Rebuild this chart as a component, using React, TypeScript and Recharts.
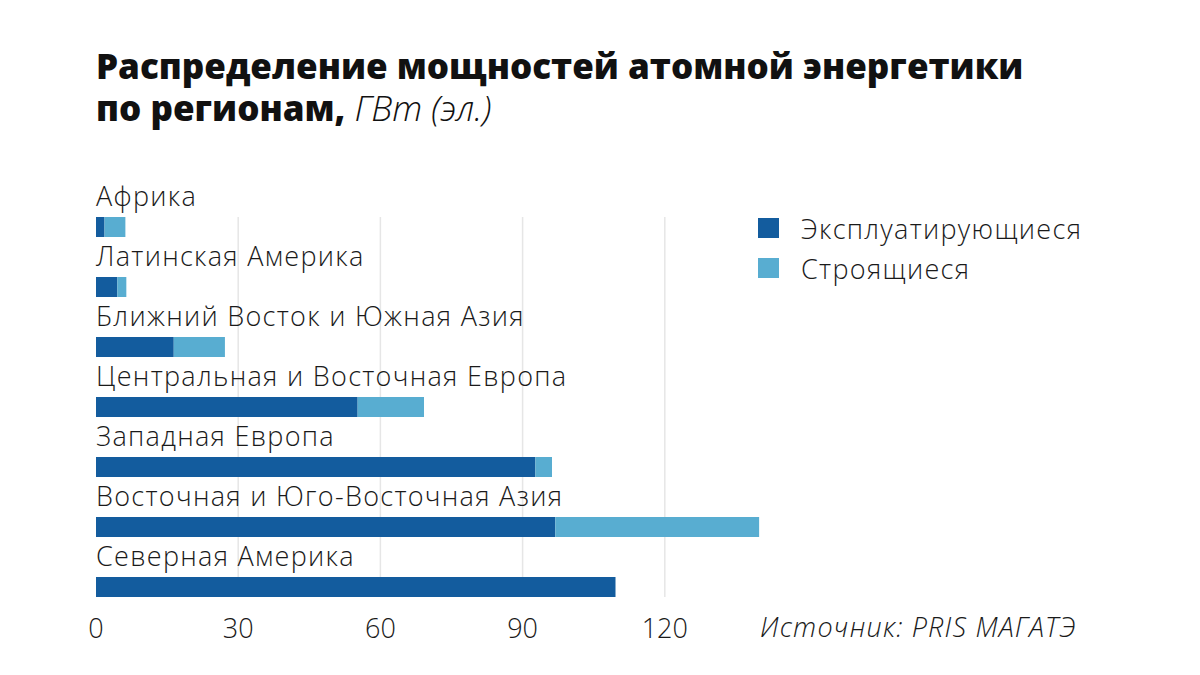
import React from "react"
import { BarChart, Bar, XAxis, YAxis, CartesianGrid, Legend, LabelList } from "recharts"

const regions = [
  "Африка",
  "Латинская Америка",
  "Ближний Восток и Южная Азия",
  "Центральная и Восточная Европа",
  "Западная Европа",
  "Восточная и Юго-Восточная Азия",
  "Северная Америка",
]
const operating = [1.8, 4.5, 16.4, 55.2, 92.7, 96.9, 109.6]
const construction = [4.4, 1.9, 10.8, 14.0, 3.5, 43.0, 0]
const xTicks = [0, 30, 60, 90, 120]

const seriesNames = ["Эксплуатирующиеся", "Строящиеся"]
const DARK = "#135c9e"
const LIGHT = "#58add1"
const FONT = "'Open Sans', sans-serif"

const chartData = regions.map((region, i) => ({
  region,
  operating: operating[i],
  construction: construction[i],
}))

const RegionLabel = (props: any) => {
  const { x, y, value } = props
  return (
    <text
      x={x}
      y={y - 11}
      fill="#1a1a1a"
      fontSize={27}
      fontWeight={300}
      fontFamily={FONT}
      letterSpacing={1.3}
    >
      {value}
    </text>
  )
}

// vertical grid lines only between first and last bar, skip the 0 and right edge
const GridLine = (props: any) => {
  const { x1, y1, x2, y2 } = props
  if (x1 < 100 || x1 > 700) return <g />
  return <line x1={x1} x2={x2} y1={y1 + 20} y2={y2 - 20} stroke="#e6e6e6" strokeWidth={1.5} />
}

const LegendBox = () => {
  const colors = [DARK, LIGHT]
  return (
    <div style={{ fontFamily: FONT }}>
      {seriesNames.map((name, i) => (
        <div key={name} style={{ display: "flex", alignItems: "center", height: 40 }}>
          <div style={{ width: 21, height: 20, background: colors[i], marginRight: 22 }} />
          <span style={{ fontSize: 27, fontWeight: 300, color: "#1a1a1a", letterSpacing: 1.3 }}>{name}</span>
        </div>
      ))}
    </div>
  )
}

const titleStyle: React.CSSProperties = {
  position: "absolute",
  left: 96,
  fontFamily: FONT,
  fontSize: 35,
  lineHeight: "40px",
  height: 40,
  fontWeight: 800,
  color: "#111",
  whiteSpace: "nowrap",
}

export default function App() {
  return (
    <div style={{ position: "absolute", left: 0, top: 0, width: 1200, height: 675, background: "#fff" }}>
      <div style={{ ...titleStyle, top: 46 }}>Распределение мощностей атомной энергетики</div>
      <div style={{ ...titleStyle, top: 88 }}>
        по регионам, <span style={{ fontWeight: 300, fontStyle: "italic" }}>ГВт (эл.)</span>
      </div>
      <BarChart
        width={1200}
        height={675}
        data={chartData}
        layout="vertical"
        margin={{ top: 197, right: 393, left: 96, bottom: 28 }}
        barSize={20}
      >
        <CartesianGrid horizontal={false} vertical={GridLine} />
        <XAxis
          type="number"
          domain={[0, 150]}
          ticks={xTicks}
          height={30}
          axisLine={false}
          tickLine={false}
          tickSize={0}
          tickMargin={2}
          tick={{ fontSize: 27, fill: "#1a1a1a", fontWeight: 300, fontFamily: FONT }}
        />
        <YAxis type="category" dataKey="region" hide />
        <Legend
          layout="vertical"
          verticalAlign="middle"
          align="center"
          content={<LegendBox />}
          wrapperStyle={{ left: 758, top: 208, width: 420 }}
        />
        <Bar dataKey="operating" stackId="a" fill={DARK} name={seriesNames[0]} isAnimationActive={false}>
          <LabelList dataKey="region" content={RegionLabel} />
        </Bar>
        <Bar dataKey="construction" stackId="a" fill={LIGHT} name={seriesNames[1]} isAnimationActive={false} />
      </BarChart>
      <div
        style={{
          position: "absolute",
          left: 760,
          top: 608,
          fontFamily: FONT,
          fontSize: 27,
          fontWeight: 300,
          fontStyle: "italic",
          color: "#1a1a1a",
          letterSpacing: 1.2,
        }}
      >
        Источник: PRIS МАГАТЭ
      </div>
    </div>
  )
}
